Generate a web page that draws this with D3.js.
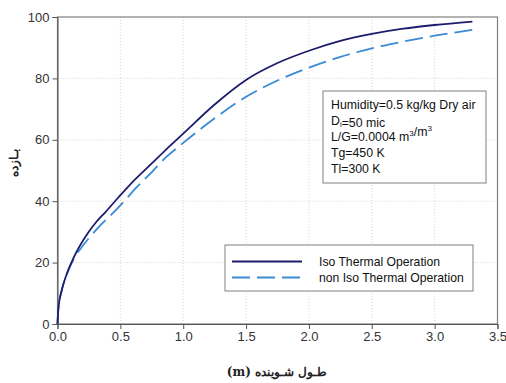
<!DOCTYPE html>
<html>
<head>
<meta charset="utf-8">
<script src="https://cdn.jsdelivr.net/npm/d3@7"></script>
<style>
  body { margin: 0; background: #fff; }
  svg text { font-family: "Liberation Sans", Arial, sans-serif; }
  .tick text { fill: #333; font-size: 13px; }
</style>
</head>
<body>
<div id="visu"></div>
<script>
// length (m) and efficiency (%) for each curve
var isoX = [0, 0.007, 0.033, 0.07, 0.126, 0.245, 0.31, 0.378, 0.484, 0.6, 0.75, 0.855, 1.0, 1.25, 1.5, 1.75, 2.0, 2.25, 2.5, 2.75, 3.0, 3.3];
var isoY = [0, 5, 10.9, 15.9, 21.4, 29.8, 33.3, 36.3, 41.2, 46.4, 52.3, 56.5, 62, 71.5, 79.5, 85, 89, 92.2, 94.5, 96.2, 97.4, 98.5];

var nonIsoX = [0, 0.007, 0.033, 0.07, 0.126, 0.179, 0.272, 0.35, 0.45, 0.54, 0.617, 0.75, 0.855, 1.0, 1.25, 1.5, 1.75, 2.0, 2.25, 2.5, 2.75, 3.0, 3.3];
var nonIsoY = [0, 5, 10.8, 15.7, 21, 24.3, 29, 32.5, 36.5, 40.4, 44, 49.5, 54, 59, 67, 74, 79.3, 83.5, 87, 89.8, 92, 93.9, 95.8];

var xTicks = [0, 0.5, 1.0, 1.5, 2.0, 2.5, 3.0, 3.5];
var yTicks = [0, 20, 40, 60, 80, 100];

var seriesNames = ["Iso Thermal Operation", "non Iso Thermal Operation"];
var infoLines = ["Humidity=0.5 kg/kg Dry air", "D|i|=50 mic", "L/G=0.0004 m^3^/m^3^", "Tg=450 K", "Tl=300 K"];

var width = 506, height = 383;
var margin = {top: 17, right: 8.5, bottom: 59, left: 57.5};
var w = width - margin.left - margin.right,
    h = height - margin.top - margin.bottom;

var svg = d3.select("#visu").append("svg")
    .attr("width", width)
    .attr("height", height);

var g = svg.append("g")
    .attr("transform", "translate(" + margin.left + "," + margin.top + ")");

var x = d3.scaleLinear().domain([0, 3.5]).range([0, w]);
var y = d3.scaleLinear().domain([0, 100]).range([h, 0]);

// dotted grid
g.append("g").selectAll("line.gx")
    .data(xTicks.slice(1, -1))
    .enter().append("line")
    .attr("x1", d => x(d)).attr("x2", d => x(d))
    .attr("y1", 0).attr("y2", h)
    .attr("stroke", "#d4d4d4").attr("stroke-dasharray", "1,2");
g.append("g").selectAll("line.gy")
    .data(yTicks.slice(1, -1))
    .enter().append("line")
    .attr("x1", 0).attr("x2", w)
    .attr("y1", d => y(d)).attr("y2", d => y(d))
    .attr("stroke", "#d4d4d4").attr("stroke-dasharray", "1,2");

// frame
g.append("rect")
    .attr("width", w).attr("height", h)
    .attr("fill", "none").attr("stroke", "#808080").attr("stroke-width", 1.2);

var xAxis = d3.axisBottom(x).tickValues(xTicks).tickFormat(d3.format(".1f")).tickSize(5).tickPadding(3);
var yAxis = d3.axisLeft(y).tickValues(yTicks).tickSize(5).tickPadding(3);

g.append("g")
    .attr("transform", "translate(0," + h + ")")
    .call(xAxis)
    .call(a => a.select(".domain").attr("stroke", "#555"))
    .call(a => a.selectAll(".tick line").attr("stroke", "#555"));
g.append("g")
    .call(yAxis)
    .call(a => a.select(".domain").attr("stroke", "#555"))
    .call(a => a.selectAll(".tick line").attr("stroke", "#555"));

var line = d3.line()
    .x(d => x(d[0]))
    .y(d => y(d[1]))
    .curve(d3.curveMonotoneX);

var isoData = isoX.map((v, i) => [v, isoY[i]]);
var nonIsoData = nonIsoX.map((v, i) => [v, nonIsoY[i]]);

var isoColor = "#1e1c6e", nonIsoColor = "#3a8ad4";

g.append("path")
    .datum(nonIsoData)
    .attr("d", line)
    .attr("fill", "none")
    .attr("stroke", nonIsoColor)
    .attr("stroke-width", 1.8)
    .attr("stroke-dasharray", "18,7");
g.append("path")
    .datum(isoData)
    .attr("d", line)
    .attr("fill", "none")
    .attr("stroke", isoColor)
    .attr("stroke-width", 1.8);

// info box
var info = svg.append("g").attr("transform", "translate(323,91)");
info.append("rect")
    .attr("width", 163).attr("height", 92)
    .attr("fill", "#fff").attr("stroke", "#808080");
infoLines.forEach(function (s, i) {
    var t = info.append("text")
        .attr("x", 8).attr("y", 18 + i * 16)
        .attr("font-size", "12.3px").attr("fill", "#111");
    // |..| = subscript, ^..^ = superscript
    s.split(/(\|[^|]*\||\^[^^]*\^)/).forEach(function (part) {
        if (!part) return;
        if (part[0] === "|") {
            t.append("tspan").attr("font-size", "8px").attr("dy", 2).text(part.slice(1, -1));
            t.append("tspan").attr("dy", -2).text("");
        } else if (part[0] === "^") {
            t.append("tspan").attr("font-size", "8px").attr("dy", -5).text(part.slice(1, -1));
            t.append("tspan").attr("dy", 5).text("");
        } else {
            t.append("tspan").text(part);
        }
    });
});

// legend
var legend = svg.append("g").attr("transform", "translate(225,245)");
legend.append("rect")
    .attr("width", 248).attr("height", 46)
    .attr("fill", "#fff").attr("stroke", "#808080");
var lg = legend.selectAll("g.item")
    .data(seriesNames)
    .enter().append("g")
    .attr("transform", (d, i) => "translate(0," + (16.5 + i * 16) + ")");
lg.append("line")
    .attr("x1", 7).attr("x2", 77)
    .attr("stroke", (d, i) => i === 0 ? isoColor : nonIsoColor)
    .attr("stroke-width", 1.8)
    .attr("stroke-dasharray", (d, i) => i === 0 ? null : "18,7");
lg.append("text")
    .attr("x", 94).attr("dy", "0.35em")
    .attr("font-size", "12.2px").attr("fill", "#111")
    .text(d => d);

// axis titles
svg.append("text")
    .attr("x", 277).attr("y", 376)
    .attr("text-anchor", "middle")
    .attr("font-size", "12px").attr("font-weight", "bold")
    .style("font-family", "'DejaVu Serif', 'Liberation Serif', serif")
    .attr("fill", "#222")
    .text("(m) طـول شـوینده");
svg.append("text")
    .attr("transform", "translate(18,163) rotate(-90)")
    .attr("text-anchor", "middle")
    .attr("font-size", "12px").attr("font-weight", "bold")
    .style("font-family", "'DejaVu Serif', 'Liberation Serif', serif")
    .attr("fill", "#222")
    .text("بـازده");
</script>
</body>
</html>
